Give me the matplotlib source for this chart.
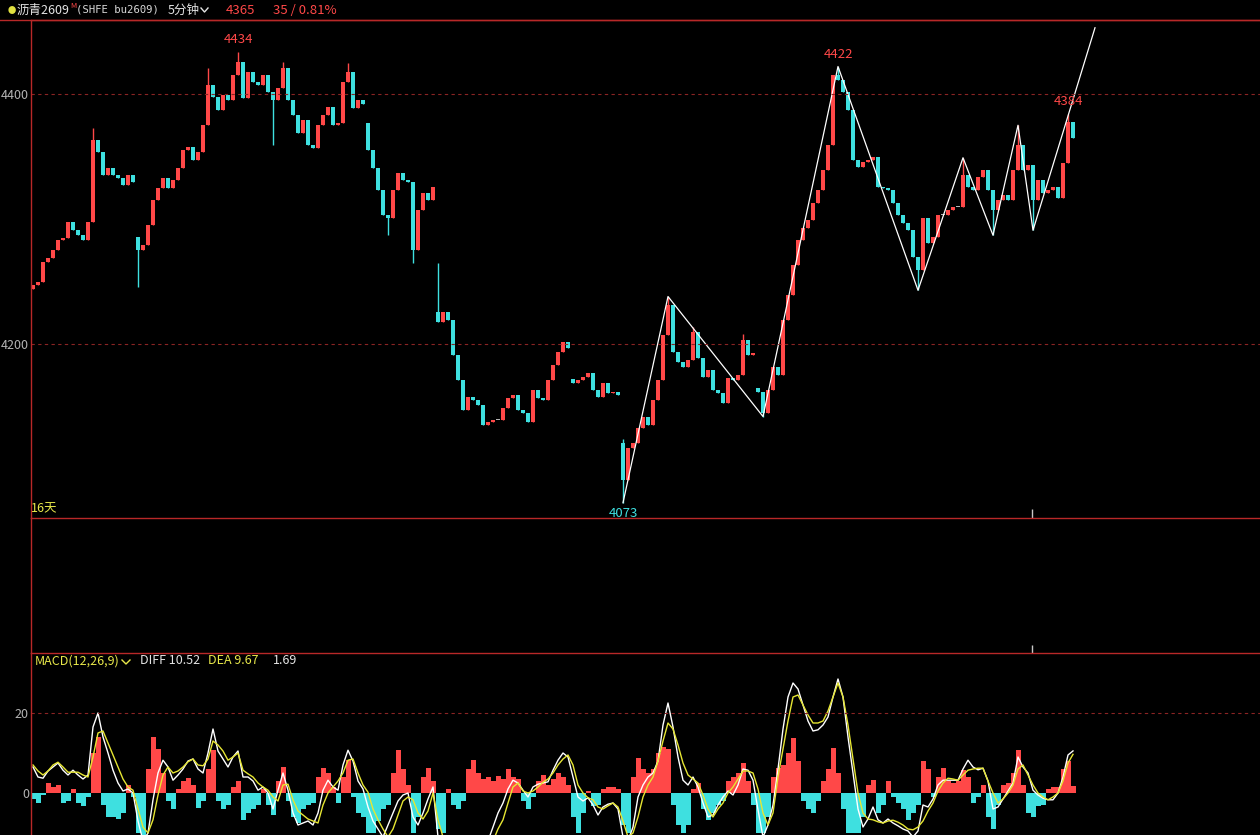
import matplotlib as mpl
mpl.use('Agg')

import numpy as np
import matplotlib.pyplot as plt
from matplotlib.lines import Line2D

plt.rcParams['font.family'] = ['Noto Sans CJK SC', 'DejaVu Sans']

# 5 minute bars (closing prices)
closes = [
    4247, 4250, 4266, 4269, 4275, 4283, 4285, 4298, 4291, 4287,
    4283, 4298, 4363, 4354, 4335, 4341, 4335, 4333, 4327, 4335,
    4330, 4275, 4279, 4295, 4315, 4325, 4333, 4325, 4331, 4341,
    4355, 4358, 4347, 4354, 4375, 4407, 4398, 4387, 4399, 4395,
    4415, 4426, 4397, 4418, 4410, 4407, 4415, 4402, 4395, 4405,
    4421, 4395, 4383, 4369, 4379, 4359, 4357, 4375, 4383, 4390,
    4375, 4377, 4410, 4418, 4389, 4395, 4392, 4355, 4341, 4323,
    4303, 4301, 4323, 4337, 4331, 4330, 4275, 4307, 4321, 4315,
    4326, 4218, 4226, 4219, 4191, 4171, 4147, 4158, 4155, 4151,
    4135, 4138, 4139, 4139, 4149, 4157, 4159, 4147, 4145, 4138,
    4163, 4157, 4155, 4171, 4183, 4194, 4202, 4197, 4169, 4171,
    4174, 4177, 4163, 4158, 4169, 4161, 4162, 4159, 4091, 4117,
    4121, 4133, 4142, 4135, 4155, 4171, 4207, 4231, 4194, 4186,
    4182, 4187, 4210, 4189, 4174, 4179, 4163, 4161, 4153, 4173,
    4171, 4175, 4203, 4191, 4193, 4162, 4145, 4163, 4182, 4175,
    4219, 4239, 4263, 4283, 4293, 4299, 4313, 4323, 4339, 4359,
    4415, 4411, 4402, 4387, 4347, 4342, 4346, 4347, 4350, 4326,
    4325, 4323, 4313, 4303, 4297, 4291, 4270, 4259, 4301, 4281,
    4286, 4303, 4303, 4307, 4310, 4310, 4335, 4326, 4323, 4334,
    4339, 4323, 4307, 4315, 4319, 4315, 4339, 4359, 4339, 4343,
    4315, 4331, 4321, 4323, 4326, 4317, 4345, 4378, 4365,
]
# opening prices that do not follow the previous close (session gaps)
gap_opens = {0: 4244, 21: 4286, 67: 4377, 81: 4226, 108: 4172, 118: 4121, 145: 4165}
# wick ends that stick out past the bodies
high_marks = {12: 4373, 35: 4421, 41: 4434, 50: 4426, 63: 4425, 81: 4265,
              118: 4124, 127: 4238, 132: 4214, 142: 4208, 161: 4422,
              186: 4349, 197: 4375, 207: 4384}
low_marks = {21: 4246, 48: 4359, 71: 4287, 76: 4265, 118: 4073, 146: 4142,
             177: 4243, 192: 4287, 200: 4291}

# zigzag (bar index, price)
zz_x = [118, 127, 146, 161, 177, 186, 192, 197, 200, 212.4]
zz_y = [4073, 4238, 4142, 4422, 4243, 4349, 4287, 4375, 4291, 4453]

# labelled extremes: bar, price, above?
extremes = [(41, 4434, True), (118, 4073, False), (161, 4422, True), (207, 4384, True)]

diff = [
    6.5, 4, 3.7, 5.5, 6.5, 7.5, 5.7, 4.5, 5.7, 4.5,
    3.5, 4.5, 16.5, 20, 14, 10, 5.7, 2.5, 0.5, 1,
    0, -7, -12, -10, -1.7, 5, 8.2, 6.5, 3.2, 4.5,
    6, 8, 8.5, 6, 5, 10, 16, 10.5, 8.5, 6.5,
    9, 10.5, 4, 4, 3, 0.7, 1.5, 0, -4, 0.7,
    5, 0.7, -5, -8, -7.5, -7, -8, -5, 0.7, 3.2,
    1.5, 0.7, 7, 10.7, 8, 3, 1, -3.5, -7, -9,
    -11, -8, -5, -2, -0.5, 0, -6, -8, -5, -1.5,
    1.5, -11, -12, -12, -12, -12, -12, -12, -12, -12,
    -12, -12, -8.5, -5, -2.5, 1, 3.2, 2.5, 0.7, -1,
    1.5, 2.2, 2.5, 2.8, 5.7, 8.2, 10, 9, 4, -1,
    -2, -1.2, -3, -5.5, -3.5, -2.8, -2.5, -4, -11, -12,
    -8.5, -1, 2, 4, 5, 8, 17, 22.5, 16.5, 9,
    3.2, 2, 4, 1.5, -2.5, -6, -5.5, -3, -1, 0.5,
    -0.5, 2, 6, 5.7, 3.2, -4.2, -11, -8, -3, 6,
    16, 24, 27.5, 26, 22, 18, 15.5, 15.8, 17, 19,
    24, 28.5, 24, 14, 5, -4, -8.5, -6.5, -3.5, -6.7,
    -7.5, -6.5, -7.5, -8.2, -9, -9.5, -11, -9.5, -3, -3.5,
    -1.5, 2, 3.2, 3.2, 3.2, 3.2, 6, 8.2, 6.5, 5.8,
    6.2, 3, -4, -3.5, -1.5, 0.5, 2.5, 9, 6.5, 5,
    0.7, -0.5, -1.3, -1.7, -1.7, 0, 4, 9.5, 10.52,
]
dea = [
    7, 5.5, 4.5, 5.5, 7, 7.7, 6.5, 5.2, 5.2, 5.2,
    4.5, 4, 9, 15, 15.5, 12.5, 9.5, 6.5, 3.5, 1.5,
    0.7, -4, -8.5, -10, -6.7, -0.5, 4.5, 6.5, 5, 5.5,
    6.5, 7.8, 8.5, 7, 6.8, 8.5, 13, 12, 10.5, 8.2,
    9, 10, 5.7, 4.8, 4, 2.5, 1.5, 0.7, -1, -2,
    2, 2.2, -1.7, -4.5, -5.5, -6.5, -7, -7.5, -3, 0,
    1.5, 3, 5, 8.2, 8.5, 5, 2, 0.2, -4, -6.7,
    -9, -11, -9, -5.5, -2, -1, -1.7, -5, -6.5, -4.5,
    0, -6.7, -11, -12, -12, -12, -12, -12, -12, -12,
    -12, -12, -12, -9, -6.7, -2.5, 1.5, 2.5, 0.5, 0,
    0.5, 1.5, 2.7, 3.5, 5, 7, 8.5, 9.5, 7, 2,
    0, -1.2, -1.7, -3.5, -4, -3.2, -2.5, -3.5, -7, -11,
    -10, -6, -1, 2, 4, 8, 13, 17.5, 16, 12,
    7.5, 4.5, 3.5, 2.5, -0.5, -4, -6, -4, -2.5, 0,
    1.5, 3.5, 5.5, 5.5, 5, 1, -5, -8, -5, 4,
    11, 18, 24, 24.5, 22, 19.5, 17.5, 17.5, 18, 20.5,
    24, 27.5, 24, 17, 8.5, 0, -5, -6.5, -6.7, -7.2,
    -7.5, -7, -6.8, -7.3, -8, -9, -9.2, -8.5, -7, -4.5,
    -2.5, 0.5, 2.5, 3.7, 3.5, 3.2, 4.5, 5.7, 6, 6.2,
    6.2, 3, 0, -2.5, -1.5, 0, 2, 6, 7, 4.5,
    2, 0, -1, -1.7, -1, 0, 3, 7.5, 9.67,
]
macd_bar = [
    -1.5, -2.5, -0.5, 2.5, 1.5, 2, -2.5, -2, 1, -2.5,
    -3.3, -1, 10, 14, -3, -6, -6, -6.5, -5, 2,
    -1, -10, -11, 6, 14, 11, 5, -2, -4, 1,
    3, 3.7, 2, -3.8, -2, 6, 10.7, -2, -4, -3,
    1.5, 3, -6.7, -5, -4, -3, 1, -3, -5.5, 3,
    6.5, -2, -6, -7.5, -4, -3, -2.5, 4, 6.2, 5,
    1.5, -2.5, 4, 8.2, -1, -5, -6, -10, -10, -7,
    -4, -3, 5, 10.7, 6, 2, -10, -6, 4, 6.2,
    3, -9, -10, 1, -3, -4, -2, 6, 8.2, 5,
    3.5, 4, 3, 4.2, 3.5, 6, 4, 3.5, -2, -4,
    -1, 3, 4.5, 2, 3.5, 5, 4, 2, -6, -10,
    -5, 0.5, -3.3, -3, 1, 1.5, 1.5, 1, -8, -10,
    4, 8.7, 6, 5, 6, 10, 11.5, 11, -3, -8,
    -10, -8, 1, 2.5, -4, -6.7, -5, -3, -2, 3,
    4, 5, 7.5, 3, -3, -10, -10, -6, 4, 6.2,
    7, 10, 13.7, 8, -2, -4, -5, -2, 3, 6,
    11.2, 5, -4, -10, -10, -10, -6, 2, 3.2, -5,
    -3, 3, -1, -2.5, -4, -6.7, -5, -3, 8, 6,
    -1, 4, 6.2, 3, 2.5, 3, 5.8, 4, -2.5, -1,
    2, -6, -9, -3, 2, 2.5, 5, 10.7, 2, -5,
    -6, -3.3, -3, 1, 1.5, 1.5, 6, 8, 1.69,
]
day_marks = [199.8]

RED = '#ff4848'
CYAN = '#3ee0e0'
GRAY = '#b4b4b4'
SPINE = '#b82828'
GRID = '#8a2424'
YELLOW = '#e8e84a'
W, H = 1260, 835


def fx(x):
    return x / W


def fy(y):
    return 1 - y / H


fig = plt.figure(figsize=(12.6, 8.35), dpi=100, facecolor='black')
left, width = fx(31), 1 - fx(31)
ax_k = fig.add_axes([left, fy(518), width, (518 - 20) / H])
ax_v = fig.add_axes([left, fy(653), width, (653 - 518) / H])
ax_m = fig.add_axes([left, 0, width, (835 - 653) / H])

for ax in (ax_k, ax_v, ax_m):
    ax.set_facecolor('black')
    ax.set_xlim(-0.4, 245.4)
    for s in ('right', 'bottom'):
        ax.spines[s].set_visible(False)
    for s in ('left', 'top'):
        ax.spines[s].set_color(SPINE)
        ax.spines[s].set_linewidth(1)
    ax.set_xticks([])
    ax.tick_params(axis='y', length=0, pad=1.5, labelcolor=GRAY, labelsize=9)

# candles
c = np.array(closes, dtype=float)
o = np.r_[c[0], c[:-1]]
for k, v in gap_opens.items():
    o[k] = v
hi = np.maximum(o, c)
lo = np.minimum(o, c)
for k, v in high_marks.items():
    hi[k] = v
for k, v in low_marks.items():
    lo[k] = v
idx = np.arange(len(c))
cols = [RED if cc > oo else (CYAN if cc < oo else GRAY) for oo, cc in zip(o, c)]

ax_k.vlines(idx, lo, hi, colors=cols, lw=1)
ax_k.bar(idx, np.maximum(np.abs(c - o), 0.8), bottom=np.minimum(o, c),
         width=0.7, color=cols, lw=0)
ax_k.plot(zz_x, zz_y, color='white', lw=0.9)

for i, p, up in extremes:
    ax_k.annotate(str(p), (i, p), xytext=(0, 4 if up else -3),
                  textcoords='offset points', ha='center',
                  va='bottom' if up else 'top', fontsize=9.5,
                  color=RED if up else CYAN)

for lvl in (4200, 4400):
    ax_k.axhline(lvl, color=GRID, ls=(0, (3, 3)), lw=0.8)
ax_k.set_ylim(4060.8, 4459.2)
ax_k.set_yticks([4200, 4400])
ax_k.vlines(day_marks, 0, 0.018, transform=ax_k.get_xaxis_transform(),
            color='#c8c8c8', lw=1)

ax_v.set_ylim(0, 1)
ax_v.set_yticks([])
ax_v.vlines(day_marks, 0, 0.06, transform=ax_v.get_xaxis_transform(),
            color='#c8c8c8', lw=1)

# MACD
mb = np.array(macd_bar)
ax_m.bar(idx, mb, width=1.0, color=[RED if v > 0 else CYAN for v in mb], lw=0)
ax_m.plot(idx, diff, color='white', lw=1)
ax_m.plot(idx, dea, color='#e6e633', lw=1)
ax_m.axhline(20, color=GRID, ls=(0, (3, 3)), lw=0.8)
ax_m.set_ylim(-10.5, 35)
ax_m.set_yticks([0, 20])

# header
fig.add_artist(Line2D([0, 1], [fy(20), fy(20)], color=SPINE, lw=1))
fig.text(fx(12), fy(11), '●', color='#e0e040', fontsize=6, ha='center', va='center')
fig.text(fx(17), fy(10), '沥青2609', color='#e4e4e4', fontsize=9, va='center')
fig.text(fx(70), fy(6), 'M', color=RED, fontsize=5.5, va='center')
fig.text(fx(76), fy(10), '(SHFE bu2609)', color='#d8d8d8', fontsize=7.7,
         va='center', family='DejaVu Sans Mono')
fig.text(fx(168), fy(10), '5分钟', color='#e4e4e4', fontsize=9, va='center')
fig.add_artist(Line2D([fx(201), fx(204.5), fx(208)], [fy(8), fy(12), fy(8)],
                      color='#e4e4e4', lw=1))
fig.text(fx(226), fy(10), '4365', color=RED, fontsize=9.5, va='center')
fig.text(fx(273), fy(10), '35 / 0.81%', color=RED, fontsize=9.5, va='center')

fig.text(fx(31), fy(509), '16天', color=YELLOW, fontsize=9, va='center')

fig.text(fx(35), fy(661), 'MACD(12,26,9)', color=YELLOW, fontsize=9, va='center')
fig.add_artist(Line2D([fx(122), fx(126), fx(130)], [fy(660), fy(664), fy(660)],
                      color=YELLOW, lw=1))
fig.text(fx(140), fy(661), 'DIFF 10.52', color='#e4e4e4', fontsize=9, va='center')
fig.text(fx(208), fy(661), 'DEA 9.67', color=YELLOW, fontsize=9, va='center')
fig.text(fx(273), fy(661), '1.69', color='#e4e4e4', fontsize=9, va='center')

fig.savefig('out.png', dpi=100, facecolor='black')
